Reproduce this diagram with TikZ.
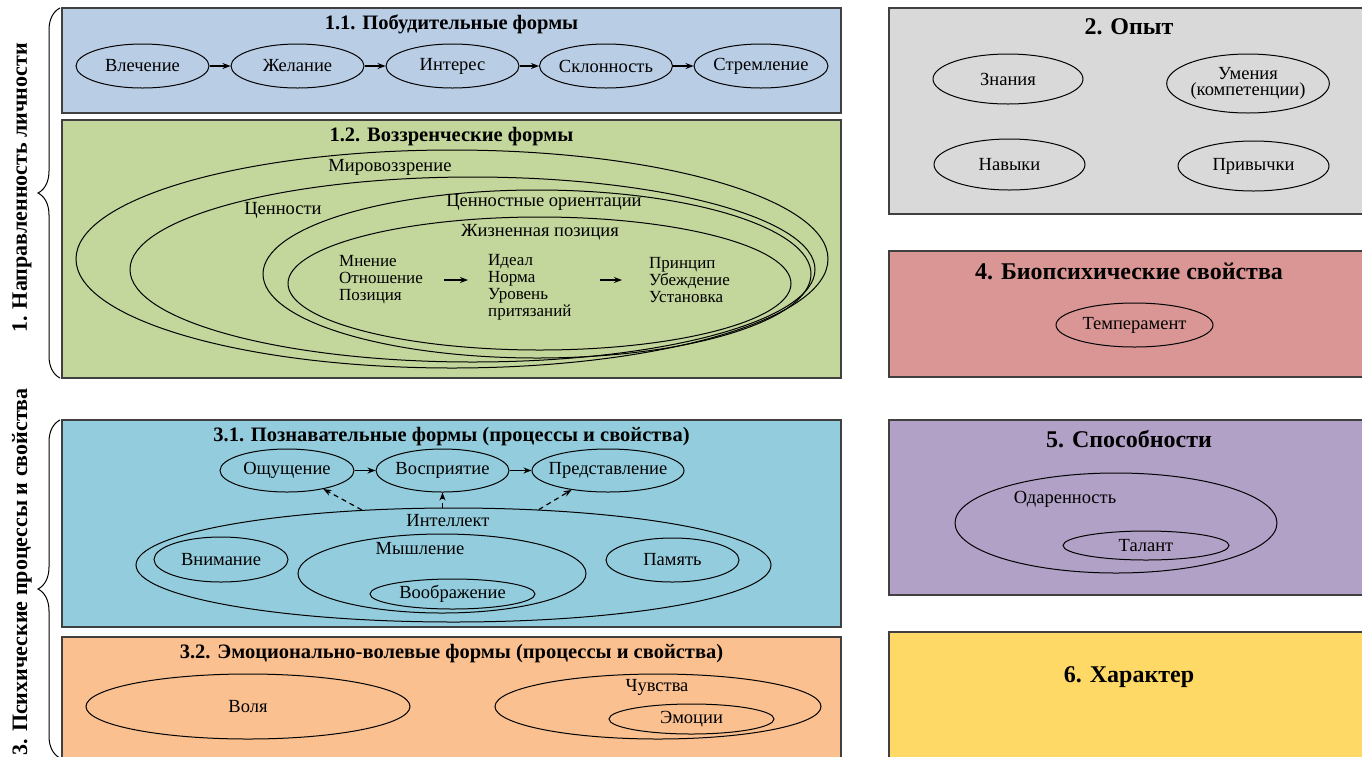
\documentclass[tikz,border=0pt]{standalone}
\usepackage{fontspec}
\setmainfont{Liberation Serif}
\usetikzlibrary{shapes.geometric,arrows.meta,decorations.pathreplacing}

\definecolor{pobudcol}{HTML}{B9CDE5}
\definecolor{vozzrcol}{HTML}{C3D69B}
\definecolor{poznavcol}{HTML}{93CDDD}
\definecolor{emoccol}{HTML}{FAC090}
\definecolor{opytcol}{HTML}{D9D9D9}
\definecolor{biocol}{HTML}{D99694}
\definecolor{sposcol}{HTML}{B2A1C7}
\definecolor{harcol}{HTML}{FFD966}

\tikzset{
	every node/.style={font=\fontsize{18.5}{20}\selectfont},
	panel/.style={draw=black!75, line width=1.8pt},
	oval/.style 2 args={ellipse, draw, line width=1pt, inner sep=0pt,
		minimum width=#1, minimum height=#2},
	txt/.style={inner sep=0pt},
	coltxt/.style={inner sep=0pt, align=left, font=\fontsize{17}{17}\selectfont},
	ptitle/.style={inner sep=0pt, font=\fontsize{20.5}{24}\selectfont\bfseries},
	rtitle/.style={inner sep=0pt, font=\fontsize{24}{28}\selectfont\bfseries},
	sidetitle/.style={inner sep=0pt, rotate=90, font=\fontsize{22}{26}\selectfont\bfseries},
	bigbrace/.style={decorate, decoration={brace, amplitude=22pt}, line width=1pt},
	arr/.style={-{Stealth[length=8pt, width=6pt]}, line width=1.2pt},
	dasharr/.style={arr, dashed, dash pattern=on 5pt off 4pt}
}

\begin{document}
\begin{tikzpicture}[x=1pt, y=-1pt]
	\useasboundingbox (0,0) rectangle (1362,756);

	% left braces
	\draw[bigbrace] (60,378) -- (60,8);
	\node[sidetitle] (napr) at (22,188) {1. Направленность личности};
	\draw[bigbrace] (60,758) -- (60,420);
	\node[sidetitle, anchor=east] (psih) at (22,388) {3. Психические процессы и свойства};

	% 1.1
	\draw[panel, fill=pobudcol] (62,8) rectangle (841,113);
	\node[ptitle] (t11) at (451.5,24) {1.1. Побудительные формы};
	\node[oval={133pt}{44pt}] (vlech) at (142.5,66) {Влечение};
	\node[oval={133pt}{44pt}] (zhel) at (297.5,66) {Желание};
	\node[oval={133pt}{44pt}] (inter) at (452.5,66) {Интерес};
	\node[oval={133pt}{44pt}] (sklon) at (606,66) {Склонность};
	\node[oval={134pt}{44pt}, label=center:Стремление] (strem) at (761,66) {};
	\draw[arr] (vlech) -- (zhel);
	\draw[arr] (zhel) -- (inter);
	\draw[arr] (inter) -- (sklon);
	\draw[arr] (sklon) -- (strem);

	% 1.2
	\draw[panel, fill=vozzrcol] (62,120) rectangle (841,378);
	\node[ptitle] (t12) at (451.5,137) {1.2. Воззренческие формы};
	\node[oval={752pt}{218pt}] (mirov) at (452,259) {};
	\node[oval={685pt}{185pt}] (cenn) at (472.5,269.5) {};
	\node[oval={548pt}{168pt}] (orient) at (537,274) {};
	\node[oval={503pt}{133pt}] (pozic) at (539.5,283.5) {};
	\node[txt] (lmirov) at (390,167) {Мировоззрение};
	\node[txt] (lcenn) at (283,210) {Ценности};
	\node[txt] (lorient) at (544,202) {Ценностные ориентации};
	\node[txt] (lpozic) at (540,232) {Жизненная позиция};
	\node[coltxt, anchor=west] (col1) at (339,280) {Мнение\\Отношение\\Позиция};
	\node[coltxt, anchor=north west] (col2) at (488,254) {Идеал\\Норма\\Уровень\\притязаний};
	\node[coltxt, anchor=west] (col3) at (649,280) {Принцип\\Убеждение\\Установка};
	\draw[arr, shorten <=21pt, shorten >=20pt] (col1.east) -- (col1.east -| col2.west);
	\draw[arr, shorten <=28pt, shorten >=27pt] (col2.east |- col3.west) -- (col3.west);

	% 3.1
	\draw[panel, fill=poznavcol] (62,420) rectangle (841,627);
	\node[ptitle] (t31) at (451.5,437) {3.1. Познавательные формы (процессы и свойства)};
	\node[oval={134pt}{43pt}] (oshu) at (287,470.5) {Ощущение};
	\node[oval={133pt}{43pt}] (vospr) at (442.5,470.5) {Восприятие};
	\node[oval={152pt}{43pt}, label=center:Представление] (predst) at (608,470.5) {};
	\draw[arr] (oshu) -- (vospr);
	\draw[arr] (vospr) -- (predst);
	\node[oval={635pt}{114pt}] (intel) at (453.5,565) {};
	\node[txt] (lintel) at (448,521) {Интеллект};
	\node[oval={134pt}{45pt}] (vnim) at (221,559.5) {Внимание};
	\node[oval={133pt}{44pt}] (pamyat) at (672.5,560) {Память};
	\node[oval={288pt}{79pt}] (mysh) at (442,573.5) {};
	\node[txt] (lmysh) at (420,549) {Мышление};
	\node[oval={165pt}{30pt}, label=center:Воображение] (voobr) at (452.5,594) {};
	\draw[dasharr] (intel.149) -- (oshu.-27);
	\draw[dasharr] (vospr.south |- intel.north) -- (vospr.south);
	\draw[dasharr] (intel.33) -- (predst.-152);

	% 3.2
	\draw[panel, fill=emoccol] (62,637) rectangle (841,760);
	\node[ptitle] (t32) at (451.5,654) {3.2. Эмоционально-волевые формы (процессы и свойства)};
	\node[oval={324pt}{65pt}] (volya) at (248,706.5) {Воля};
	\node[oval={326pt}{65pt}] (chuvs) at (658,706.5) {};
	\node[txt] (lchuvs) at (657,687) {Чувства};
	\node[oval={165pt}{30pt}] (emoc) at (691.5,719) {Эмоции};

	% 2
	\draw[panel, fill=opytcol] (889,8) rectangle (1369,214);
	\node[rtitle] (t2) at (1129,27) {2. Опыт};
	\node[oval={150pt}{50pt}] (znan) at (1008,79) {Знания};
	\node[oval={150pt}{59pt}, align=center, font=\fontsize{18.5}{16}\selectfont] (umen) at (1248,83.5) {Умения\\(компетенции)};
	\node[oval={151pt}{51pt}] (navyk) at (1009.5,164.5) {Навыки};
	\node[oval={151pt}{50pt}] (privych) at (1253.5,166) {Привычки};

	% 4
	\draw[panel, fill=biocol] (889,251) rectangle (1369,377);
	\node[rtitle] (t4) at (1129,271) {4. Биопсихические свойства};
	\node[oval={157pt}{44pt}, label=center:Темперамент] (temper) at (1134.5,325) {};

	% 5
	\draw[panel, fill=sposcol] (889,420) rectangle (1369,595);
	\node[rtitle] (t5) at (1129,439) {5. Способности};
	\node[oval={322pt}{100pt}] (odar) at (1116,523) {};
	\node[txt] (lodar) at (1065,499) {Одаренность};
	\node[oval={166pt}{29pt}] (talant) at (1146,545.5) {Талант};

	% 6
	\draw[panel, fill=harcol] (889,632) rectangle (1369,760);
	\node[rtitle] (t6) at (1129,677) {6. Характер};
\end{tikzpicture}
\end{document}
